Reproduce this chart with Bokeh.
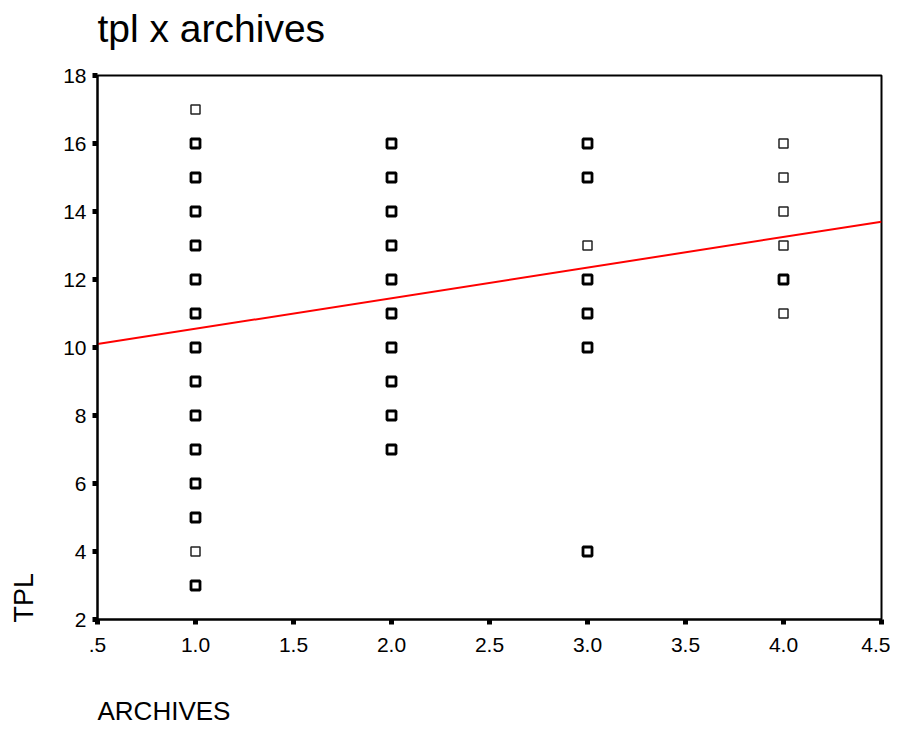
from bokeh.plotting import figure
from bokeh.models import FixedTicker, Title, Range1d
from bokeh.embed import file_html
from bokeh.resources import INLINE

# ---- data ----
archives = [1, 1, 1, 1, 1, 1, 1, 1, 1, 1, 1, 1, 1, 1, 1,
            2, 2, 2, 2, 2, 2, 2, 2, 2, 2,
            3, 3, 3, 3, 3, 3, 3,
            4, 4, 4, 4, 4, 4]
tpl = [17, 16, 15, 14, 13, 12, 11, 10, 9, 8, 7, 6, 5, 4, 3,
       16, 15, 14, 13, 12, 11, 10, 9, 8, 7,
       16, 15, 13, 12, 11, 10, 4,
       16, 15, 14, 13, 12, 11]
# 1 = single case, 2 = several overlapping cases (drawn bolder)
cases = [1, 2, 2, 2, 2, 2, 2, 2, 2, 2, 2, 2, 2, 1, 2,
         2, 2, 2, 2, 2, 2, 2, 2, 2, 2,
         2, 2, 1, 2, 2, 2, 2,
         1, 1, 1, 1, 2, 1]

fit_intercept = 9.65
fit_slope = 0.9

x_ticks = [0.5, 1.0, 1.5, 2.0, 2.5, 3.0, 3.5, 4.0, 4.5]
x_tick_labels = [".5", "1.0", "1.5", "2.0", "2.5", "3.0", "3.5", "4.0", "4.5"]
y_ticks = [2, 4, 6, 8, 10, 12, 14, 16, 18]

FONT = "Liberation Sans"

p = figure(width=902, height=764, output_backend="svg", toolbar_location=None,
           x_range=Range1d(0.5, 4.5), y_range=Range1d(2, 18),
           min_border_left=108, min_border_right=9, min_border_top=102,
           min_border_bottom=118)
p.margin = (-27, 0, -12, -12)

p.title.text = "tpl x archives"
p.title.text_font = FONT
p.title.text_font_size = "39px"
p.title.text_font_style = "normal"
p.title.text_color = "black"
p.title.align = "left"
p.title.vertical_align = "bottom"
p.title.standoff = 52

p.xgrid.visible = False
p.ygrid.visible = False
p.outline_line_color = "black"
p.outline_line_width = 2
p.outline_line_alpha = 1

for ax in (p.xaxis[0], p.yaxis[0]):
    ax.axis_line_width = 2
    ax.axis_line_color = "black"
    ax.major_tick_line_width = 5
    ax.major_tick_line_color = "black"
    ax.major_tick_out = 5
    ax.major_tick_in = 0
    ax.minor_tick_line_color = None
    ax.major_label_text_font = FONT
    ax.major_label_text_font_size = "21px"
    ax.major_label_text_color = "black"

p.xaxis[0].ticker = FixedTicker(ticks=x_ticks)
p.xaxis[0].major_label_overrides = {t: s for t, s in zip(x_ticks, x_tick_labels)}
p.xaxis[0].major_label_standoff = 13
p.yaxis[0].ticker = FixedTicker(ticks=y_ticks)
p.yaxis[0].major_label_standoff = 6

# axis titles placed like SPSS: bottom-left
xt = Title(text="\nARCHIVES", align="left", vertical_align="bottom", text_font=FONT,
           text_font_size="26px", text_font_style="normal", text_color="black",
           standoff=18)
p.add_layout(xt, "below")
yt = Title(text="TPL", align="left", vertical_align="top", text_font=FONT,
           text_font_size="27px", text_font_style="normal", text_color="black",
           standoff=40, offset=-3)
p.add_layout(yt, "left")

# points
single_x = [a for a, c in zip(archives, cases) if c == 1]
single_y = [t for t, c in zip(tpl, cases) if c == 1]
multi_x = [a for a, c in zip(archives, cases) if c > 1]
multi_y = [t for t, c in zip(tpl, cases) if c > 1]

p.scatter(single_x, single_y, marker="square", size=9, fill_color="white",
          line_color="#222222", line_width=1.5)
p.scatter(multi_x, multi_y, marker="square", size=9, fill_color="white",
          line_color="black", line_width=2.8)

# regression line
fx = [x_ticks[0], x_ticks[-1]]
fy = [fit_intercept + fit_slope * v for v in fx]
p.line(fx, fy, line_color="red", line_width=2)

open("out.html", "w").write(file_html(p, INLINE))
